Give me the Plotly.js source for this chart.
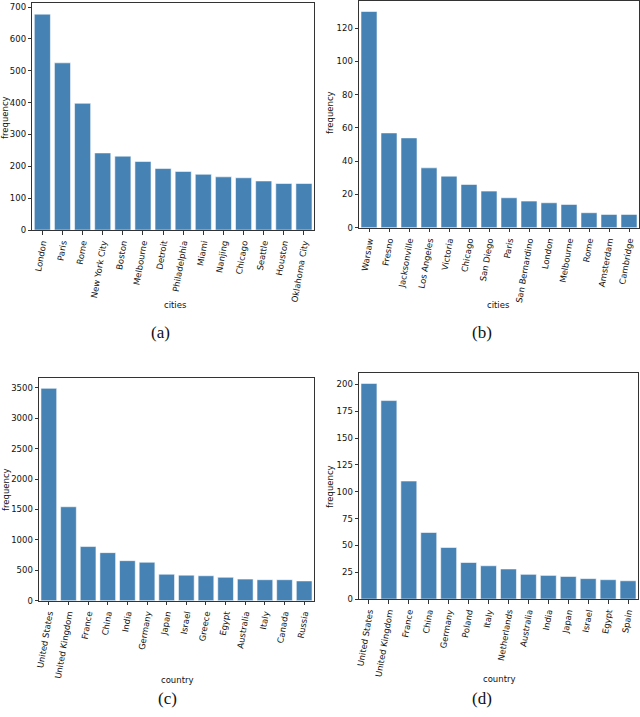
<!DOCTYPE html>
<html>
<head>
<meta charset="utf-8">
<script src="https://cdn.plot.ly/plotly-3.0.1.min.js"></script>
<style>html,body{margin:0;padding:0;background:#fff;}#chart{width:640px;height:717px;}</style>
</head>
<body>
<div id="chart"></div>
<script>
// (a) cities
var citiesA = ["London","Paris","Rome","New York City","Boston","Melbourne","Detroit","Philadelphia","Miami","Nanjing","Chicago","Seattle","Houston","Oklahoma City"];
var freqA = [678, 525, 398, 242, 232, 215, 193, 184, 175, 167, 164, 154, 146, 146];
// (b) cities
var citiesB = ["Warsaw","Fresno","Jacksonville","Los Angeles","Victoria","Chicago","San Diego","Paris","San Bernardino","London","Melbourne","Rome","Amsterdam","Cambridge"];
var freqB = [130, 57, 54, 36, 31, 26, 22, 18, 16, 15, 14, 9, 8, 8];
// (c) countries
var countriesC = ["United States","United Kingdom","France","China","India","Germany","Japan","Israel","Greece","Egypt","Australia","Italy","Canada","Russia"];
var freqC = [3490, 1544, 890, 790, 658, 632, 435, 420, 410, 385, 355, 345, 345, 325];
// (d) countries
var countriesD = ["United States","United Kingdom","France","China","Germany","Poland","Italy","Netherlands","Australia","India","Japan","Israel","Egypt","Spain"];
var freqD = [201, 185, 110, 62, 48, 34, 31, 28, 23, 22, 21, 19, 18, 17];

var barColor = "#4682b4";
function bar(x, y, ax) {
  return {type: "bar", x: x, y: y, xaxis: "x" + ax, yaxis: "y" + ax,
    marker: {color: barColor, line: {color: "rgba(255,255,255,0.7)", width: 0.8}},
    hoverinfo: "x+y", showlegend: false};
}
var W = 640, H = 717;
function px(v) { return v / W; }
function py(v) { return 1 - v / H; }
var tickFont = {family: "DejaVu Sans", size: 8.5, color: "#111"};
function xax(l, r, anchor) {
  return {domain: [px(l), px(r)], anchor: anchor, type: "category", range: [-0.5, 13.5],
    showline: true, mirror: true, linecolor: "#333", linewidth: 1,
    ticks: "outside", ticklen: 3.5, tickwidth: 0.8, tickcolor: "#333",
    tickangle: -80, tickfont: tickFont, showgrid: false, zeroline: false, fixedrange: true};
}
function yax(top, bot, anchor, max, dtick) {
  return {domain: [py(bot), py(top)], anchor: anchor, range: [0, max], dtick: dtick,
    showline: true, mirror: true, linecolor: "#333", linewidth: 1,
    ticks: "outside", ticklen: 3.5, tickwidth: 0.8, tickcolor: "#333",
    tickfont: tickFont, showgrid: false, zeroline: false, fixedrange: true};
}
var layout = {
  width: W, height: H, margin: {l: 0, r: 0, t: 0, b: 0},
  paper_bgcolor: "#fff", plot_bgcolor: "#fff", bargap: 0.2,
  xaxis: xax(32.3, 314, "y"), yaxis: yax(3.3, 230, "x", 712, 100),
  xaxis2: xax(359, 639, "y2"), yaxis2: yax(0.7, 227.7, "x2", 136.5, 20),
  xaxis3: xax(39, 314, "y3"), yaxis3: yax(377.7, 600.7, "x3", 3665, 500),
  xaxis4: xax(359, 638, "y4"), yaxis4: yax(372.7, 599, "x4", 211, 25),
  annotations: []
};
function ann(text, x, y, opts) {
  var a = {text: text, xref: "paper", yref: "paper", x: px(x), y: py(y), showarrow: false,
    xanchor: "center", yanchor: "middle", font: {family: "DejaVu Sans", size: 8.5, color: "#111"}};
  for (var k in opts) a[k] = opts[k];
  layout.annotations.push(a);
}
var cap = {family: "Liberation Serif", size: 17, color: "#111"};
ann("frequency", 5, 118, {textangle: -90});
ann("frequency", 330, 113, {textangle: -90});
ann("frequency", 6, 490, {textangle: -90});
ann("frequency", 330, 487, {textangle: -90});
ann("cities", 175, 305);
ann("cities", 498, 305);
ann("country", 177, 680);
ann("country", 499, 679);
ann("(a)", 160, 333, {font: cap});
ann("(b)", 482, 333, {font: cap});
ann("(c)", 167, 698, {font: cap});
ann("(d)", 482, 698, {font: cap});

Plotly.newPlot("chart", [bar(citiesA, freqA, ""), bar(citiesB, freqB, "2"), bar(countriesC, freqC, "3"), bar(countriesD, freqD, "4")], layout, {displayModeBar: false});
</script>
</body>
</html>
